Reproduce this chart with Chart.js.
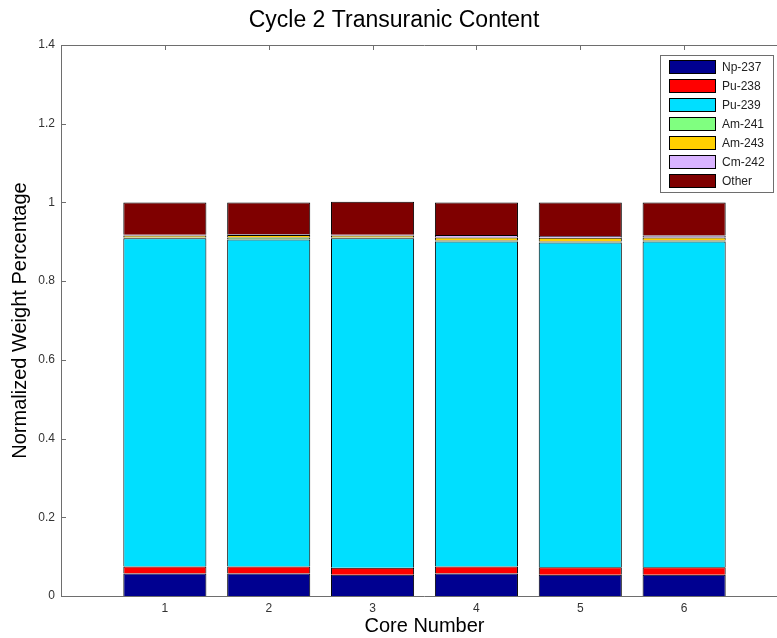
<!DOCTYPE html>
<html>
<head>
<meta charset="utf-8">
<title>Cycle 2 Transuranic Content</title>
<script src="https://cdn.jsdelivr.net/npm/chart.js@4.4.1/dist/chart.umd.min.js"></script>
<style>
  html, body { margin: 0; padding: 0; background: #fff; overflow: hidden; }
  #wrap { width: 800px; height: 638px; }
</style>
</head>
<body>
<div id="wrap"><canvas id="tru" width="800" height="638"></canvas></div>
<script>
// core numbers along the x axis
const cores = [1, 2, 3, 4, 5, 6];

// normalized weight fractions per isotope, one value per core
const np237 = [0.057, 0.057, 0.054, 0.057, 0.054, 0.054];
const pu238 = [0.018, 0.018, 0.018, 0.018, 0.019, 0.019];
const pu239 = [0.834, 0.831, 0.837, 0.826, 0.825, 0.828];
const am241 = [0.002, 0.005, 0.002, 0.002, 0.003, 0.002];
const am243 = [0.005, 0.006, 0.005, 0.008, 0.009, 0.008];
const cm242 = [0.002, 0.002, 0.002, 0.006, 0.005, 0.005];
const other = [0.082, 0.081, 0.084, 0.083, 0.085, 0.084];

const yTicks = [0, 0.2, 0.4, 0.6, 0.8, 1, 1.2, 1.4];

const series = [
    { label: 'Np-237', values: np237, color: '#000090' },
    { label: 'Pu-238', values: pu238, color: '#ff0000' },
    { label: 'Pu-239', values: pu239, color: '#00dfff' },
    { label: 'Am-241', values: am241, color: '#80ff80' },
    { label: 'Am-243', values: am243, color: '#ffd000' },
    { label: 'Cm-242', values: cm242, color: '#d9b3ff' },
    { label: 'Other',  values: other, color: '#7f0000' }
];

const FONT = "'Liberation Sans', Arial, sans-serif";
const AXIS_COLOR = '#6e6e6e';

// axes box with inward tick marks
const boxAxes = {
    id: 'boxAxes',
    beforeDatasetsDraw(chart) {
        const { ctx, chartArea: a, scales } = chart;
        ctx.save();
        ctx.strokeStyle = AXIS_COLOR;
        ctx.lineWidth = 1;
        ctx.beginPath();
        ctx.rect(a.left + 0.5, a.top + 0.5, a.right - a.left - 1, a.bottom - a.top);
        const len = 5;
        yTicks.forEach(v => {
            const y = Math.round(scales.y.getPixelForValue(v)) + 0.5;
            ctx.moveTo(a.left, y); ctx.lineTo(a.left + len, y);
            ctx.moveTo(a.right, y); ctx.lineTo(a.right - len, y);
        });
        cores.forEach(c => {
            const x = Math.round(scales.x.getPixelForValue(c)) + 0.5;
            ctx.moveTo(x, a.top); ctx.lineTo(x, a.top + len);
            ctx.moveTo(x, a.bottom); ctx.lineTo(x, a.bottom - len);
        });
        ctx.stroke();
        ctx.restore();
    }
};

// legend box in the upper right of the plot
const insetLegend = {
    id: 'insetLegend',
    afterDatasetsDraw(chart) {
        const { ctx } = chart;
        const left = 660, top = 55, w = 113, rowH = 19;
        const h = rowH * chart.data.datasets.length + 4;
        ctx.save();
        ctx.fillStyle = '#fff';
        ctx.fillRect(left, top, w, h);
        ctx.strokeStyle = AXIS_COLOR;
        ctx.lineWidth = 1;
        ctx.strokeRect(left + 0.5, top + 0.5, w, h);
        ctx.font = '12px ' + FONT;
        ctx.textBaseline = 'middle';
        chart.data.datasets.forEach((ds, i) => {
            const cy = top + 12 + i * rowH;
            ctx.fillStyle = ds.backgroundColor;
            ctx.fillRect(669, cy - 7, 47, 14);
            ctx.strokeStyle = '#000';
            ctx.strokeRect(669.5, cy - 6.5, 46, 13);
            ctx.fillStyle = '#222';
            ctx.fillText(ds.label, 722, cy + 0.5);
        });
        ctx.restore();
    }
};

new Chart(document.getElementById('tru'), {
    type: 'bar',
    data: {
        datasets: series.map(s => ({
            label: s.label,
            data: cores.map((c, i) => ({ x: c, y: s.values[i] })),
            backgroundColor: s.color,
            borderColor: '#000',
            borderWidth: 1,
            borderSkipped: 'start',
            inflateAmount: 0,
            categoryPercentage: 0.8,
            barPercentage: 1
        }))
    },
    options: {
        responsive: false,
        animation: false,
        layout: { padding: { top: 0, right: 12, bottom: 0, left: 0 } },
        plugins: {
            legend: { display: false },
            tooltip: { enabled: false },
            title: {
                display: true,
                text: 'Cycle 2 Transuranic Content',
                color: '#000',
                font: { family: FONT, size: 23, weight: 'normal', lineHeight: 1.2 },
                padding: { top: 7, bottom: 10.4 }
            }
        },
        scales: {
            x: {
                type: 'linear',
                stacked: true,
                offset: false,
                min: 0,
                max: 7,
                grid: { display: false, drawTicks: false, offset: false },
                border: { display: false },
                ticks: {
                    stepSize: 1,
                    padding: 5,
                    color: '#333',
                    font: { family: FONT, size: 12 },
                    callback: v => (cores.includes(v) ? String(v) : '')
                },
                title: {
                    display: true,
                    text: 'Core Number',
                    color: '#000',
                    font: { family: FONT, size: 20 },
                    padding: { top: 0, bottom: 0 }
                },
                afterFit(scale) { scale.height = 42; }
            },
            y: {
                stacked: true,
                min: 0,
                max: 1.4,
                grid: { display: false, drawTicks: false },
                border: { display: false },
                afterBuildTicks(scale) { scale.ticks = yTicks.map(v => ({ value: v })); },
                ticks: {
                    padding: 6,
                    color: '#333',
                    font: { family: FONT, size: 12 },
                    callback: v => String(v)
                },
                title: {
                    display: true,
                    text: 'Normalized Weight Percentage',
                    color: '#000',
                    font: { family: FONT, size: 20 },
                    padding: { top: 8, bottom: 0 }
                },
                afterFit(scale) { scale.width = 61; }
            }
        }
    },
    plugins: [boxAxes, insetLegend]
});
</script>
</body>
</html>
